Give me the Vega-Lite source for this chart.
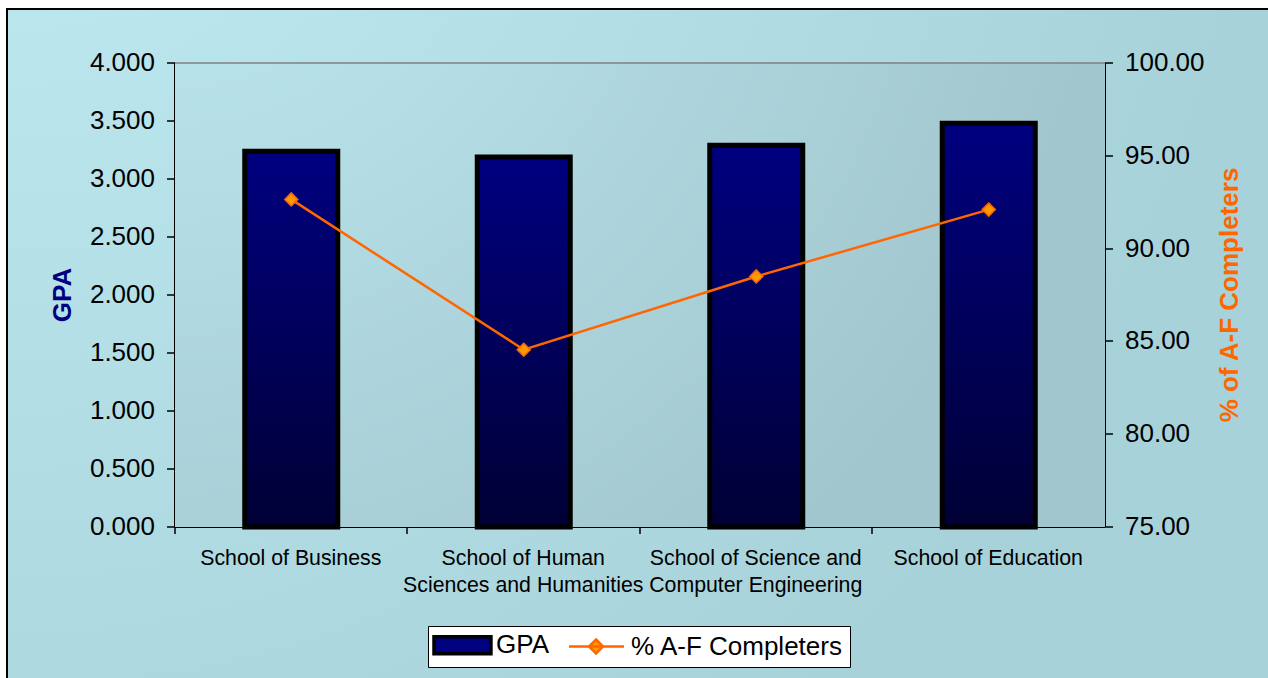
{
  "$schema": "https://vega.github.io/schema/vega-lite/v6.json",
  "width": 1264,
  "height": 672,
  "autosize": "none",
  "padding": {"left": 7, "top": 9, "right": -3, "bottom": -3},
  "background": "white",
  "view": {
    "fill": {"gradient": "radial", "x1": 0, "y1": 0, "r1": 0, "x2": 0, "y2": 0, "r2": 1,
      "stops": [{"offset": 0, "color": "#c0ecf4"}, {"offset": 1, "color": "#a8d2d9"}]},
    "stroke": "black",
    "strokeWidth": 2
  },
  "data": {"values": [
    {"school": "School of Business", "gpa": 3.24, "pct": 92.65},
    {"school": "School of Human Sciences and Humanities", "gpa": 3.19, "pct": 84.55},
    {"school": "School of Science and Computer Engineering", "gpa": 3.29, "pct": 88.5},
    {"school": "School of Education", "gpa": 3.48, "pct": 92.1}
  ]},
  "layer": [
    {
      "data": {"values": [{"id": 1}]},
      "mark": {"type": "rect", "stroke": "#808080", "strokeWidth": 1.5, "strokeDash": [930, 3000],
        "fill": {"gradient": "radial", "x1": 0, "y1": 0, "r1": 0, "x2": 0, "y2": 0, "r2": 1,
          "stops": [{"offset": 0, "color": "#bfebf3"}, {"offset": 1, "color": "#a2c6ce"}]}},
      "encoding": {
        "x": {"datum": 0, "type": "quantitative", "scale": {"domain": [0, 1], "range": [168, 1098], "nice": false}, "axis": null},
        "x2": {"datum": 1},
        "y": {"datum": 0, "type": "quantitative", "scale": {"domain": [0, 1], "range": [518, 54], "nice": false}, "axis": null},
        "y2": {"datum": 1}
      }
    },
    {
      "mark": {"type": "bar", "width": {"band": 0.4}, "strokeWidth": 5,
        "fill": {"gradient": "linear", "x1": 0, "y1": 0, "x2": 0, "y2": 1,
          "stops": [{"offset": 0, "color": "#000080"}, {"offset": 1, "color": "#000035"}]}},
      "encoding": {
        "x": {"field": "school", "type": "nominal", "sort": null,
          "scale": {"range": [168, 1098], "paddingInner": 0, "paddingOuter": 0},
          "axis": {"orient": "bottom", "offset": -154, "bandPosition": 0, "title": null,
            "tickSize": 7, "labelPadding": 14, "labelFontSize": 21.3, "labelLineHeight": 26.5,
            "labelLimit": 400, "labelOverlap": false, "labelAngle": 0, "labelAlign": "center",
            "labelExpr": "datum.value == 'School of Human Sciences and Humanities' ? ['School of Human', 'Sciences and Humanities'] : datum.value == 'School of Science and Computer Engineering' ? ['School of Science and', 'Computer Engineering'] : datum.label"}},
        "y": {"field": "gpa", "type": "quantitative",
          "scale": {"domain": [0, 4], "range": [518, 54], "nice": false, "zero": true},
          "axis": {"orient": "left", "offset": -168, "values": [0, 0.5, 1, 1.5, 2, 2.5, 3, 3.5, 4],
            "format": ".3f", "labelFontSize": 26, "labelPadding": 12, "tickSize": 8,
            "title": "GPA", "titleFontSize": 26, "titleFontWeight": "bold", "titleColor": "#000080",
            "titleAngle": 270, "titleBaseline": "middle", "titleX": -112,
            "encode": {"ticks": {"update": {"x": {"value": 8}}}}}},
        "stroke": {"datum": "GPA", "type": "nominal",
          "scale": {"domain": ["GPA", "% A-F Completers"], "range": ["black", "#ff6600"]},
          "legend": {"orient": "none", "legendX": 421, "legendY": 617, "direction": "horizontal",
            "title": null, "fillColor": "white", "strokeColor": "black", "padding": 6,
            "labelFont": "Liberation Sans", "labelFontSize": 26, "labelColor": "black", "labelLimit": 500,
            "labelOffset": 36, "columnPadding": 15, "symbolSize": 676,
            "encode": {"symbols": {"update": {
              "shape": {"signal": "datum.value == 'GPA' ? 'M-1,-0.65H3.38V0.65H-1Z' : 'M-1,0H3.23M1.08,-0.54L1.62,0L1.08,0.54L0.54,0Z'"},
              "fill": {"signal": "datum.value == 'GPA' ? '#000080' : '#ff9900'"},
              "fillOpacity": {"value": 1},
              "strokeWidth": {"signal": "datum.value == 'GPA' ? 3.5 : 2.5"}
            }}}}}
      }
    },
    {
      "mark": {"type": "line", "strokeWidth": 2.5,
        "point": {"shape": "diamond", "filled": true, "fill": "#ff9900", "size": 170, "strokeWidth": 1.5}},
      "encoding": {
        "x": {"field": "school", "type": "nominal", "sort": null,
          "scale": {"range": [168, 1098], "paddingInner": 0, "paddingOuter": 0}, "axis": null},
        "y": {"field": "pct", "type": "quantitative",
          "scale": {"domain": [75, 100], "range": [518, 54], "nice": false, "zero": false},
          "axis": {"orient": "right", "offset": -166, "values": [75, 80, 85, 90, 95, 100],
            "format": ".2f", "labelFontSize": 26, "labelPadding": 12, "tickSize": 8,
            "title": "% of A-F Completers", "titleFontSize": 26, "titleFontWeight": "bold", "titleColor": "#ff6600",
            "titleAngle": 270, "titleBaseline": "middle", "titleX": 125,
            "encode": {"ticks": {"update": {"x": {"value": -8}}}}}},
        "stroke": {"datum": "% A-F Completers", "type": "nominal",
          "legend": {"orient": "none", "legendX": 421, "legendY": 617, "direction": "horizontal",
            "title": null, "fillColor": "white", "strokeColor": "black", "padding": 6,
            "labelFont": "Liberation Sans", "labelFontSize": 26, "labelColor": "black", "labelLimit": 500,
            "labelOffset": 36, "columnPadding": 15, "symbolSize": 676,
            "encode": {"symbols": {"update": {
              "shape": {"signal": "datum.value == 'GPA' ? 'M-1,-0.65H3.38V0.65H-1Z' : 'M-1,0H3.23M1.08,-0.54L1.62,0L1.08,0.54L0.54,0Z'"},
              "fill": {"signal": "datum.value == 'GPA' ? '#000080' : '#ff9900'"},
              "fillOpacity": {"value": 1},
              "strokeWidth": {"signal": "datum.value == 'GPA' ? 3.5 : 2.5"}
            }}}}}
      }
    }
  ],
  "resolve": {"scale": {"x": "independent", "y": "independent"}},
  "config": {
    "font": "Liberation Sans",
    "axis": {"grid": false, "zindex": 1, "translate": 0, "labelFont": "Liberation Sans", "titleFont": "Liberation Sans",
      "domainColor": "black", "domainWidth": 2, "tickColor": "black", "tickWidth": 1.5, "labelColor": "black"}
  }
}
